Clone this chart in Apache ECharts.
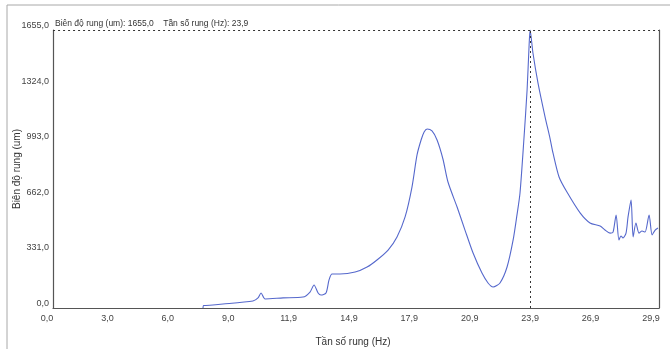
<!DOCTYPE html>
<html>
<head>
<meta charset="utf-8">
<script src="https://cdn.jsdelivr.net/npm/echarts@6/dist/echarts.min.js"></script>
<style>
html,body{margin:0;padding:0;background:#fff;}
#c{width:670px;height:349px;}
</style>
</head>
<body>
<div id="c"></div>
<script>
// Data
var freqHz = [7.71, 7.73, 7.76, 8.70, 10.18, 10.43, 10.58, 10.78, 11.67, 12.65, 13.00, 13.20, 13.40, 13.54, 13.79, 13.94, 14.09, 14.48, 15.23, 15.82, 16.31, 16.86, 17.30, 17.70, 18.04, 18.29, 18.49, 18.64, 18.79, 19.03, 19.28, 19.57, 19.82, 20.27, 20.66, 21.06, 21.50, 21.80, 22.05, 22.39, 22.74, 23.04, 23.23, 23.38, 23.58, 23.73, 23.83, 23.88, 24.02, 24.27, 24.62, 24.86, 25.01, 25.31, 25.70, 26.35, 26.84, 27.34, 27.58, 27.83, 27.98, 28.13, 28.27, 28.37, 28.47, 28.62, 28.72, 28.87, 28.97, 29.11, 29.26, 29.41, 29.56, 29.76, 29.91, 30.06, 30.20];
var amplitude = [0, 15, 15, 24, 42, 60, 89, 54, 60, 65, 95, 137, 89, 77, 89, 167, 202, 202, 214, 244, 286, 345, 423, 542, 720, 911, 1000, 1048, 1066, 1054, 1000, 887, 750, 601, 464, 327, 208, 149, 125, 149, 244, 405, 554, 685, 1018, 1298, 1566, 1655, 1518, 1339, 1137, 1012, 923, 780, 690, 566, 506, 488, 464, 446, 452, 554, 405, 429, 417, 446, 542, 643, 423, 506, 446, 458, 452, 554, 435, 464, 476];
var xTickLabels = ['0,0', '3,0', '6,0', '9,0', '11,9', '14,9', '17,9', '20,9', '23,9', '26,9', '29,9'];
var yTickLabels = ['0,0', '331,0', '662,0', '993,0', '1324,0', '1655,0'];
var peakHz = 23.88;
var peakAmp = 1655;
var xStep = 2.985;
var yStep = 331;

var FONT = 'Liberation Sans';
var pts = freqHz.map(function (f, i) { return [f, amplitude[i]]; });

var chart = echarts.init(document.getElementById('c'), null, {renderer: 'canvas'});
chart.setOption({
  animation: false,
  backgroundColor: '#ffffff',
  textStyle: {fontFamily: FONT},
  title: {
    text: 'Biên độ rung (um): ' + peakAmp.toFixed(1).replace('.', ',') + '    Tần số rung (Hz): ' + xTickLabels[8],
    left: 55, top: 19, padding: 0,
    textStyle: {fontSize: 8.5, fontWeight: 'normal', color: '#333', fontFamily: FONT}
  },
  graphic: [{
    type: 'polyline', silent: true,
    shape: {points: [[7, 349], [7, 5], [670, 5]]},
    style: {stroke: '#a8a8a8', lineWidth: 1, fill: null}
  }],
  grid: [
    {left: 47, right: 11, top: 30, bottom: 41, outerBoundsMode: 'none', containLabel: false},
    {left: 53, right: 11, top: 30, bottom: 41, outerBoundsMode: 'none', containLabel: false}
  ],
  xAxis: [{
    gridIndex: 0, type: 'value', min: 0, max: 30.25, interval: xStep,
    axisLine: {show: false}, axisTick: {show: false}, splitLine: {show: false},
    axisLabel: {
      margin: 6, fontSize: 9, color: '#444', fontFamily: FONT,
      formatter: function (v) {
        var k = Math.round(v / xStep);
        if (Math.abs(v - k * xStep) > 0.01) return '';
        return xTickLabels[k] || '';
      }
    },
    name: 'Tần số rung (Hz)', nameLocation: 'middle', nameGap: 29, nameMoveOverlap: false,
    nameTextStyle: {fontSize: 10, color: '#333', fontFamily: FONT}
  }, {
    gridIndex: 1, type: 'value', min: 0, max: 1,
    axisLine: {show: true, lineStyle: {color: '#555', width: 1.2}},
    axisTick: {show: false}, splitLine: {show: false}, axisLabel: {show: false}
  }],
  yAxis: [{
    gridIndex: 0, type: 'value', min: 0, max: 1655, interval: yStep,
    axisLine: {show: false}, axisTick: {show: false}, splitLine: {show: false}, axisLabel: {show: false}
  }, {
    gridIndex: 1, type: 'value', min: 0, max: 1655, interval: yStep, position: 'left',
    axisLine: {show: true, lineStyle: {color: '#555', width: 1.2}},
    axisTick: {show: false}, splitLine: {show: false},
    axisLabel: {
      margin: 4, fontSize: 9, color: '#444', fontFamily: FONT, verticalAlign: 'bottom',
      formatter: function (v) { return yTickLabels[Math.round(v / yStep)] || ''; }
    },
    name: 'Biên độ rung (um)', nameLocation: 'middle', nameGap: 31, nameMoveOverlap: false,
    nameTextStyle: {fontSize: 10, color: '#333', fontFamily: FONT}
  }, {
    gridIndex: 1, type: 'value', min: 0, max: 1655, position: 'right',
    axisLine: {show: true, lineStyle: {color: '#555', width: 1.2}},
    axisTick: {show: false}, splitLine: {show: false}, axisLabel: {show: false}
  }],
  series: [{
    type: 'line', xAxisIndex: 0, yAxisIndex: 0,
    data: pts, showSymbol: false, symbol: 'none', smooth: 0.25,
    lineStyle: {color: '#5568cc', width: 1.1},
    markLine: {
      silent: true, symbol: 'none', label: {show: false},
      lineStyle: {color: '#333', type: [2, 3], width: 1},
      data: [
        [{coord: [0.3, peakAmp]}, {coord: [30.25, peakAmp]}],
        [{coord: [peakHz, 0]}, {coord: [peakHz, peakAmp]}]
      ]
    }
  }]
});
</script>
</body>
</html>
